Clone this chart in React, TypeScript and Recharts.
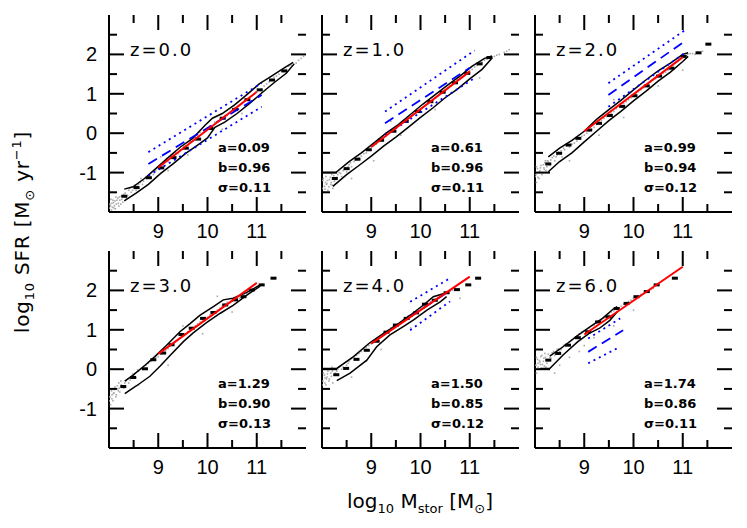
import { ScatterChart, Scatter, XAxis, YAxis } from 'recharts'

type Pt = [number, number]

// panel labels and fit parameters
const PANEL_Z = ['0.0', '1.0', '2.0', '3.0', '4.0', '6.0']
const FIT_A = [0.09, 0.61, 0.99, 1.29, 1.5, 1.74]
const FIT_B = [0.96, 0.96, 0.94, 0.9, 0.85, 0.86]
const FIT_SIGMA = [0.11, 0.11, 0.12, 0.13, 0.12, 0.11]

const X_TICKS = [8.5, 9, 9.5, 10, 10.5, 11, 11.5]
const Y_TICKS = [-1.5, -1, -0.5, 0, 0.5, 1, 1.5, 2, 2.5]

// simulated galaxies (grey cloud), read by eye
const SCATTER: Pt[][] = [
  [
    [8.03, -1.85], [8.06, -1.78], [8.1, -1.9], [8.12, -1.72], [8.15, -1.8], [8.18, -1.65], [8.2, -1.85], [8.22, -1.7],
    [8.25, -1.6], [8.28, -1.75], [8.05, -1.95], [8.14, -1.62], [8.08, -1.7], [8.02, -1.8], [8.3, -1.55], [8.35, -1.65],
    [8.4, -1.45], [8.45, -1.5], [8.5, -1.38], [8.55, -1.45], [8.6, -1.3], [8.7, -1.22], [8.8, -1.1], [8.9, -1.05],
    [9.0, -0.9], [9.1, -0.8], [9.2, -0.72], [9.3, -0.55], [9.4, -0.52], [9.5, -0.4], [9.6, -0.3], [9.7, -0.2],
    [9.8, -0.05], [9.9, 0.0], [10.0, 0.12], [10.1, 0.15], [10.2, 0.3], [10.3, 0.38], [10.4, 0.45], [10.5, 0.58],
    [10.6, 0.62], [10.7, 0.75], [10.8, 0.85], [10.9, 0.95], [11.0, 1.05], [11.1, 1.12], [11.2, 1.25], [11.3, 1.35],
    [11.4, 1.45], [11.5, 1.58], [11.6, 1.62], [11.7, 1.72], [11.8, 1.78], [11.85, 1.85], [9.2, -0.95], [9.6, -0.55],
    [10.3, 0.1], [9.05, -0.6], [10.7, 0.5], [11.9, 1.9], [8.65, -1.15], [9.75, -0.35],
    [8.0, -1.9], [8.04, -1.68], [8.07, -1.88], [8.09, -1.76], [8.11, -1.84], [8.13, -1.92], [8.16, -1.7], [8.19, -1.78],
    [8.21, -1.62], [8.24, -1.8], [8.26, -1.68], [8.29, -1.6], [8.33, -1.52], [8.38, -1.58], [8.42, -1.4], [8.48, -1.45],
    [8.52, -1.32], [8.58, -1.35], [8.63, -1.25], [8.68, -1.3], [8.75, -1.15], [8.85, -1.02], [8.95, -0.95], [9.05, -0.85],
    [9.15, -0.72], [9.25, -0.62], [9.35, -0.5], [9.45, -0.42], [9.55, -0.32], [9.65, -0.22], [9.75, -0.12], [9.85, 0.02],
    [9.95, 0.08], [10.05, 0.18], [10.15, 0.28], [10.25, 0.35], [10.35, 0.45], [10.45, 0.52], [10.55, 0.65], [10.65, 0.7],
    [10.75, 0.82], [10.85, 0.9], [10.95, 1.0], [11.05, 1.1], [11.15, 1.2], [11.25, 1.3], [11.35, 1.42], [11.45, 1.5],
    [11.55, 1.6], [11.65, 1.7], [11.75, 1.75], [11.95, 1.95],
  ],
  [
    [8.02, -1.2], [8.05, -1.35], [8.08, -1.1], [8.1, -1.28], [8.12, -1.45], [8.15, -1.18], [8.18, -1.3], [8.2, -1.05],
    [8.22, -1.4], [8.25, -1.22], [8.04, -1.5], [8.07, -1.25], [8.3, -1.12], [8.35, -1.0], [8.4, -1.1], [8.45, -0.92],
    [8.5, -0.98], [8.55, -0.8], [8.6, -0.85], [8.7, -0.68], [8.8, -0.58], [8.9, -0.5], [9.0, -0.35], [9.1, -0.28],
    [9.2, -0.15], [9.3, -0.08], [9.4, 0.05], [9.5, 0.15], [9.6, 0.22], [9.7, 0.35], [9.8, 0.42], [9.9, 0.55],
    [10.0, 0.6], [10.1, 0.7], [10.2, 0.82], [10.3, 0.9], [10.4, 1.0], [10.5, 1.1], [10.6, 1.2], [10.7, 1.3],
    [10.8, 1.38], [10.9, 1.48], [11.0, 1.58], [11.1, 1.68], [11.2, 1.75], [11.3, 1.85], [11.4, 1.9], [11.5, 1.95],
    [11.6, 2.0], [11.7, 2.05], [8.6, -1.15], [9.05, -0.7], [9.6, -0.05], [10.3, 0.6], [11.2, 1.4], [11.8, 2.12],
    [9.4, 0.3],
    [8.0, -1.4], [8.03, -1.15], [8.06, -1.42], [8.09, -1.3], [8.11, -1.2], [8.14, -1.36], [8.17, -1.12], [8.19, -1.25],
    [8.21, -1.32], [8.24, -1.08], [8.27, -1.18], [8.32, -1.05], [8.38, -1.02], [8.43, -0.95], [8.48, -0.88], [8.53, -0.85],
    [8.58, -0.75], [8.65, -0.72], [8.75, -0.62], [8.85, -0.52], [8.95, -0.42], [9.05, -0.32], [9.15, -0.2], [9.25, -0.12],
    [9.35, 0.0], [9.45, 0.08], [9.55, 0.2], [9.65, 0.28], [9.75, 0.38], [9.85, 0.48], [9.95, 0.58], [10.05, 0.66],
    [10.15, 0.75], [10.25, 0.85], [10.35, 0.95], [10.45, 1.05], [10.55, 1.15], [10.65, 1.25], [10.75, 1.35], [10.85, 1.42],
    [10.95, 1.52], [11.05, 1.62], [11.15, 1.72], [11.25, 1.8], [11.35, 1.88], [11.45, 1.92], [11.55, 1.98], [11.75, 2.08],
  ],
  [
    [8.02, -1.05], [8.05, -0.9], [8.08, -1.15], [8.1, -0.95], [8.12, -0.82], [8.15, -1.0], [8.18, -0.88], [8.2, -0.75],
    [8.22, -0.95], [8.25, -0.7], [8.03, -1.25], [8.06, -1.0], [8.3, -0.8], [8.35, -0.62], [8.4, -0.7], [8.45, -0.55],
    [8.5, -0.5], [8.55, -0.6], [8.6, -0.42], [8.7, -0.35], [8.8, -0.25], [8.9, -0.15], [9.0, -0.05], [9.1, 0.05],
    [9.2, 0.15], [9.3, 0.3], [9.4, 0.38], [9.5, 0.48], [9.6, 0.55], [9.7, 0.68], [9.8, 0.75], [9.9, 0.85],
    [10.0, 0.95], [10.1, 1.05], [10.2, 1.15], [10.3, 1.25], [10.4, 1.35], [10.5, 1.42], [10.6, 1.52], [10.7, 1.6],
    [10.8, 1.72], [10.9, 1.82], [11.0, 1.92], [11.1, 2.0], [11.2, 2.02], [11.3, 2.05], [8.7, -0.7], [9.3, -0.05],
    [9.8, 0.4], [10.5, 1.2], [11.0, 1.6], [9.6, 0.85],
    [8.0, -1.1], [8.03, -0.85], [8.06, -1.12], [8.09, -0.98], [8.11, -0.88], [8.14, -1.05], [8.17, -0.8], [8.19, -0.92],
    [8.21, -0.7], [8.24, -0.85], [8.27, -0.72], [8.32, -0.68], [8.38, -0.58], [8.43, -0.6], [8.48, -0.48], [8.53, -0.45],
    [8.58, -0.38], [8.65, -0.32], [8.75, -0.28], [8.85, -0.2], [8.95, -0.08], [9.05, 0.0], [9.15, 0.1], [9.25, 0.22],
    [9.35, 0.32], [9.45, 0.42], [9.55, 0.5], [9.65, 0.62], [9.75, 0.7], [9.85, 0.8], [9.95, 0.9], [10.05, 1.0],
    [10.15, 1.1], [10.25, 1.2], [10.35, 1.3], [10.45, 1.38], [10.55, 1.48], [10.65, 1.55], [10.75, 1.68], [10.85, 1.78],
    [10.95, 1.88], [11.05, 1.95], [11.15, 2.02], [11.25, 2.0], [11.4, 2.08],
  ],
  [
    [8.02, -0.7], [8.05, -0.55], [8.08, -0.8], [8.1, -0.6], [8.12, -0.45], [8.15, -0.65], [8.18, -0.5], [8.2, -0.35],
    [8.22, -0.58], [8.25, -0.4], [8.03, -0.9], [8.06, -0.65], [8.3, -0.48], [8.35, -0.3], [8.4, -0.35], [8.45, -0.2],
    [8.5, -0.15], [8.55, -0.22], [8.6, -0.05], [8.7, 0.05], [8.8, 0.15], [8.9, 0.25], [9.0, 0.32], [9.1, 0.45],
    [9.2, 0.52], [9.3, 0.65], [9.4, 0.75], [9.5, 0.85], [9.6, 0.95], [9.7, 1.05], [9.8, 1.15], [9.9, 1.25],
    [10.0, 1.32], [10.1, 1.42], [10.2, 1.5], [10.3, 1.6], [10.4, 1.7], [10.5, 1.72], [10.6, 1.78], [10.7, 1.85],
    [10.8, 1.92], [10.9, 2.0], [11.0, 2.1], [11.1, 2.15], [8.6, -0.4], [9.2, 0.1], [9.9, 0.9], [10.5, 1.45],
    [10.2, 1.85], [9.5, 1.1],
    [8.0, -0.8], [8.03, -0.5], [8.06, -0.75], [8.09, -0.62], [8.11, -0.52], [8.14, -0.7], [8.17, -0.42], [8.19, -0.55],
    [8.21, -0.48], [8.24, -0.3], [8.27, -0.45], [8.32, -0.35], [8.38, -0.25], [8.43, -0.28], [8.48, -0.12], [8.53, -0.1],
    [8.58, -0.02], [8.65, 0.0], [8.75, 0.1], [8.85, 0.2], [8.95, 0.3], [9.05, 0.38], [9.15, 0.48], [9.25, 0.6],
    [9.35, 0.7], [9.45, 0.8], [9.55, 0.9], [9.65, 1.0], [9.75, 1.1], [9.85, 1.2], [9.95, 1.28], [10.05, 1.38],
    [10.15, 1.45], [10.25, 1.55], [10.35, 1.65], [10.45, 1.68], [10.55, 1.75], [10.65, 1.8], [10.75, 1.88], [10.85, 1.95],
    [10.95, 2.05], [11.05, 2.12],
  ],
  [
    [8.02, -0.3], [8.05, -0.15], [8.08, -0.4], [8.1, -0.2], [8.12, -0.05], [8.15, -0.25], [8.18, -0.1], [8.2, 0.05],
    [8.22, -0.35], [8.25, -0.15], [8.03, -0.5], [8.06, -0.22], [8.3, -0.05], [8.35, 0.05], [8.4, 0.0], [8.45, 0.15],
    [8.5, 0.1], [8.55, 0.2], [8.6, 0.28], [8.7, 0.35], [8.8, 0.45], [8.9, 0.55], [9.0, 0.65], [9.1, 0.78],
    [9.2, 0.85], [9.3, 0.95], [9.4, 1.05], [9.5, 1.12], [9.6, 1.2], [9.7, 1.3], [9.8, 1.38], [9.9, 1.45],
    [10.0, 1.55], [10.1, 1.62], [10.2, 1.72], [10.3, 1.78], [10.4, 1.85], [10.5, 1.92], [10.6, 1.98], [10.7, 2.05],
    [8.6, -0.2], [9.2, 0.5], [9.8, 1.05], [10.4, 1.55], [10.8, 1.8], [8.9, 0.2],
    [8.0, -0.4], [8.03, -0.1], [8.06, -0.35], [8.09, -0.25], [8.11, -0.12], [8.14, -0.3], [8.17, 0.0], [8.19, -0.18],
    [8.21, -0.05], [8.24, 0.02], [8.27, -0.1], [8.32, 0.0], [8.38, 0.08], [8.43, 0.05], [8.48, 0.18], [8.53, 0.15],
    [8.58, 0.25], [8.65, 0.3], [8.75, 0.4], [8.85, 0.5], [8.95, 0.6], [9.05, 0.72], [9.15, 0.8], [9.25, 0.9],
    [9.35, 1.0], [9.45, 1.08], [9.55, 1.15], [9.65, 1.25], [9.75, 1.35], [9.85, 1.42], [9.95, 1.5], [10.05, 1.58],
    [10.15, 1.68], [10.25, 1.75], [10.35, 1.82], [10.45, 1.88], [10.55, 1.95], [10.65, 2.0],
  ],
  [
    [8.02, 0.1], [8.05, 0.25], [8.08, 0.0], [8.1, 0.18], [8.12, 0.32], [8.15, 0.12], [8.18, 0.28], [8.2, 0.4],
    [8.22, 0.05], [8.25, 0.22], [8.03, -0.1], [8.06, 0.15], [8.3, 0.3], [8.35, 0.42], [8.4, 0.35], [8.45, 0.5],
    [8.5, 0.45], [8.55, 0.55], [8.6, 0.62], [8.7, 0.7], [8.8, 0.8], [8.9, 0.9], [9.0, 0.98], [9.1, 1.05],
    [9.2, 1.12], [9.3, 1.22], [9.4, 1.3], [9.5, 1.4], [9.6, 1.48], [9.7, 1.55], [9.8, 1.65], [9.9, 1.72],
    [10.0, 1.8], [10.1, 1.85], [10.2, 1.92], [10.3, 2.0], [10.4, 2.05], [8.5, 0.1], [8.4, -0.1], [9.0, 0.6],
    [9.6, 1.1], [10.0, 1.5], [8.9, 0.45],
    [8.0, 0.0], [8.03, 0.3], [8.06, 0.05], [8.09, 0.22], [8.11, 0.12], [8.14, 0.35], [8.17, 0.2], [8.19, 0.08],
    [8.21, 0.3], [8.24, 0.15], [8.27, 0.38], [8.32, 0.28], [8.38, 0.45], [8.43, 0.4], [8.48, 0.52], [8.53, 0.5],
    [8.58, 0.6], [8.65, 0.65], [8.75, 0.75], [8.85, 0.85], [8.95, 0.95], [9.05, 1.0], [9.15, 1.1], [9.25, 1.18],
    [9.35, 1.25], [9.45, 1.35], [9.55, 1.45], [9.65, 1.52], [9.75, 1.6], [9.85, 1.68], [9.95, 1.75], [10.05, 1.82],
    [10.15, 1.9], [10.25, 1.95], [10.35, 2.02], [9.2, 0.8], [8.7, 0.3],
  ],
]

// contour of the simulated distribution
const UPPER: Pt[][] = [
  [[8.31, -1.42], [8.49, -1.36], [8.72, -1.15], [8.95, -0.9], [9.2, -0.62], [9.45, -0.35], [9.7, -0.13], [9.95, 0.2],
   [10.1, 0.38], [10.3, 0.5], [10.55, 0.72], [10.8, 0.98], [11.05, 1.25], [11.3, 1.45], [11.55, 1.65], [11.74, 1.8]],
  [[8.0, -1.0], [8.28, -1.0], [8.55, -0.72], [8.8, -0.5], [9.05, -0.25], [9.3, 0.0], [9.55, 0.22], [9.8, 0.48],
   [10.05, 0.74], [10.3, 0.98], [10.55, 1.22], [10.8, 1.45], [11.05, 1.7], [11.3, 1.9], [11.45, 1.96]],
  [[8.27, -0.6], [8.5, -0.38], [8.75, -0.18], [9.0, 0.05], [9.25, 0.35], [9.5, 0.6], [9.75, 0.84], [10.0, 1.1],
   [10.25, 1.35], [10.5, 1.58], [10.75, 1.78], [11.0, 2.0], [11.11, 2.04]],
  [[8.32, -0.3], [8.49, -0.15], [8.73, 0.1], [8.93, 0.32], [9.17, 0.61], [9.44, 0.95], [9.64, 1.15], [9.85, 1.37],
   [10.12, 1.59], [10.32, 1.76], [10.52, 1.8], [10.8, 1.95], [11.07, 2.14]],
  [[8.0, 0.02], [8.3, 0.02], [8.64, 0.32], [8.97, 0.67], [9.25, 0.91], [9.51, 1.12], [9.79, 1.37], [10.06, 1.63],
   [10.26, 1.84], [10.53, 1.94]],
  [[8.3, 0.33], [8.57, 0.57], [8.87, 0.86], [9.1, 1.06], [9.37, 1.29], [9.6, 1.54], [9.67, 1.59]],
]
const LOWER: Pt[][] = [
  [[8.31, -1.72], [8.55, -1.52], [8.8, -1.3], [9.05, -1.02], [9.3, -0.78], [9.55, -0.52], [9.8, -0.3], [10.0, -0.12],
   [10.15, 0.15], [10.35, 0.28], [10.6, 0.5], [10.85, 0.75], [11.1, 1.02], [11.35, 1.28], [11.6, 1.52], [11.76, 1.76]],
  [[8.22, -1.35], [8.5, -1.05], [8.75, -0.82], [9.0, -0.58], [9.25, -0.33], [9.5, -0.1], [9.75, 0.15], [10.0, 0.4],
   [10.25, 0.64], [10.5, 0.9], [10.75, 1.12], [11.0, 1.38], [11.25, 1.62], [11.45, 1.9]],
  [[8.27, -0.98], [8.5, -0.72], [8.75, -0.5], [9.0, -0.22], [9.25, 0.05], [9.5, 0.32], [9.75, 0.56], [10.0, 0.82],
   [10.25, 1.06], [10.5, 1.32], [10.75, 1.55], [11.0, 1.82], [11.11, 1.95]],
  [[8.32, -0.62], [8.56, -0.42], [8.83, -0.18], [9.04, 0.08], [9.24, 0.35], [9.51, 0.7], [9.71, 0.92], [9.98, 1.18],
   [10.26, 1.42], [10.52, 1.62], [10.8, 1.88], [11.07, 2.11]],
  [[8.3, -0.29], [8.57, -0.1], [8.91, 0.23], [9.11, 0.57], [9.38, 0.87], [9.65, 1.08], [9.86, 1.25], [10.13, 1.5],
   [10.4, 1.71], [10.53, 1.84]],
  [[8.1, 0.02], [8.3, 0.02], [8.57, 0.36], [8.87, 0.7], [9.1, 0.91], [9.31, 1.04], [9.52, 1.24], [9.67, 1.46]],
]

// binned medians
const MEDIANS: Pt[][] = [
  [[8.31, -1.6], [8.56, -1.38], [8.81, -1.13], [9.06, -0.88], [9.31, -0.62], [9.56, -0.38], [9.81, -0.15],
   [10.06, 0.12], [10.31, 0.38], [10.56, 0.6], [10.81, 0.85], [11.06, 1.1], [11.31, 1.35], [11.56, 1.58]],
  [[8.26, -1.15], [8.5, -0.9], [8.72, -0.66], [8.95, -0.42], [9.2, -0.18], [9.45, 0.05], [9.7, 0.3], [9.95, 0.55],
   [10.2, 0.8], [10.45, 1.04], [10.7, 1.28], [10.95, 1.52], [11.2, 1.76], [11.4, 1.92]],
  [[8.27, -0.78], [8.49, -0.51], [8.68, -0.3], [8.88, -0.13], [9.1, 0.08], [9.3, 0.25], [9.52, 0.45], [9.77, 0.68],
   [10.02, 0.95], [10.27, 1.2], [10.52, 1.45], [10.77, 1.65], [11.02, 1.95], [11.32, 2.04], [11.52, 2.26]],
  [[8.29, -0.44], [8.49, -0.21], [8.73, 0.01], [8.9, 0.24], [9.1, 0.41], [9.27, 0.62], [9.47, 0.88], [9.68, 1.04],
   [9.91, 1.29], [10.12, 1.44], [10.36, 1.63], [10.56, 1.76], [10.73, 1.84], [10.9, 2.01], [11.1, 2.14], [11.34, 2.31]],
  [[8.29, -0.14], [8.49, 0.02], [8.7, 0.25], [8.91, 0.48], [9.11, 0.71], [9.31, 0.94], [9.5, 1.12], [9.72, 1.29],
   [9.91, 1.43], [10.09, 1.65], [10.29, 1.75], [10.53, 1.94], [10.74, 2.02], [10.97, 2.14], [11.17, 2.31]],
  [[8.27, 0.23], [8.47, 0.4], [8.67, 0.61], [8.87, 0.8], [9.08, 0.95], [9.28, 1.2], [9.49, 1.33], [9.66, 1.54],
   [9.86, 1.67], [10.06, 1.84], [10.27, 1.97], [10.47, 2.14], [10.84, 2.31]],
]

// best fit (red)
const FIT_LINE: Pt[][] = [
  [[9, -0.87], [11, 1.05]],
  [[9, -0.35], [11, 1.57]],
  [[9, 0.05], [11, 1.93]],
  [[9, 0.39], [11, 2.19]],
  [[9, 0.65], [11, 2.35]],
  [[9, 0.88], [11, 2.6]],
]

// observed relation (blue dashed) and its scatter (blue dotted)
const OBS_MID: Pt[][] = [
  [[8.8, -0.78], [11.1, 0.97]],
  [[9.28, 0.25], [11.0, 1.66]],
  [[9.49, 0.97], [11.08, 2.37]],
  [],
  [[9.79, 1.33], [10.53, 1.94]],
  [[9.08, 0.44], [9.79, 0.99]],
]
const OBS_HI: Pt[][] = [
  [[8.8, -0.48], [11.1, 1.27]],
  [[9.28, 0.55], [11.1, 2.1]],
  [[9.49, 1.27], [11.05, 2.62]],
  [],
  [[9.79, 1.71], [10.6, 2.31]],
  [[9.08, 0.78], [9.73, 1.29]],
]
const OBS_LO: Pt[][] = [
  [[8.8, -1.08], [11.1, 0.67]],
  [[9.28, -0.05], [11.1, 1.4]],
  [[9.49, 0.67], [11.08, 2.07]],
  [],
  [[9.79, 0.99], [10.6, 1.72]],
  [[9.08, 0.15], [9.73, 0.57]],
]

const X_DOMAIN = [8, 12]
const Y_DOMAIN = [-2, 3]
const PLOT = 197
const AXIS_W = 40
const AXIS_H = 40
const PAD = 2
const MAJOR_LEN = 15
const MINOR_LEN = 8
const TICK_W = 2
const TICK_FONT = 'Liberation Sans, Arial, Helvetica, sans-serif'
const LABEL_FONT = 'DejaVu Sans, Verdana, sans-serif'

const toXY = (pts: Pt[]) => pts.map(([x, y]) => ({ x, y }))
const isMajor = (v: number) => Number.isInteger(v)
const panelLeft = (i: number) => 109 + 213 * (i % 3)
const panelTop = (i: number) => 15 + 236 * Math.floor(i / 3)

const noDot = () => <g />
const greyDot = (p: any) => <rect x={p.cx - 0.8} y={p.cy - 0.8} width={1.6} height={1.6} fill="#aaaaaa" />
const medianDash = (p: any) => <rect x={p.cx - 3} y={p.cy - 1.5} width={6} height={3} fill="#000" />

function lineSeries(key: string, pts: Pt[], stroke: string, width: number, dash?: string) {
  if (!pts.length) return null
  return (
    <Scatter
      key={key}
      data={toXY(pts)}
      xAxisId="b"
      yAxisId="l"
      line={{ stroke, strokeWidth: width, strokeDasharray: dash }}
      shape={noDot}
      isAnimationActive={false}
    />
  )
}

function XLabel({ x, y, payload }: any) {
  if (!isMajor(payload.value)) return <g />
  return (
    <text x={x} y={y + 26} textAnchor="middle" fontSize={20} fontFamily={TICK_FONT} fill="#000">
      {payload.value}
    </text>
  )
}

function YLabel({ x, y, payload }: any) {
  if (!isMajor(payload.value)) return <g />
  return (
    <text x={x - 12} y={y + 7} textAnchor="end" fontSize={20} fontFamily={TICK_FONT} fill="#000">
      {payload.value}
    </text>
  )
}

function Panel({ i }: { i: number }) {
  const col = i % 3
  const frame = { stroke: '#000', strokeWidth: 2 }
  return (
    <div style={{ position: 'absolute', left: panelLeft(i) - AXIS_W, top: panelTop(i) - PAD }}>
      <ScatterChart
        width={AXIS_W + PLOT + PAD}
        height={PAD + PLOT + AXIS_H}
        margin={{ top: PAD, right: PAD, bottom: 0, left: 0 }}
      >
        <XAxis xAxisId="b" type="number" dataKey="x" domain={X_DOMAIN} ticks={X_TICKS} interval={0}
          orientation="bottom" height={AXIS_H} tickSize={0} tickMargin={0} tickLine={false} allowDataOverflow
          axisLine={frame} tick={(p: any) => <XLabel {...p} />} />
        <XAxis xAxisId="t" type="number" dataKey="x" domain={X_DOMAIN} ticks={X_TICKS} interval={0}
          orientation="top" height={0} tickSize={0} tickMargin={0} tickLine={false} allowDataOverflow
          axisLine={frame} tick={noDot} />
        <YAxis yAxisId="l" type="number" dataKey="y" domain={Y_DOMAIN} ticks={Y_TICKS} interval={0}
          orientation="left" width={AXIS_W} tickSize={0} tickMargin={0} tickLine={false} allowDataOverflow
          axisLine={frame} tick={col === 0 ? (p: any) => <YLabel {...p} /> : noDot} />
        <YAxis yAxisId="r" type="number" dataKey="y" domain={Y_DOMAIN} ticks={Y_TICKS} interval={0}
          orientation="right" width={0} tickSize={0} tickMargin={0} tickLine={false} allowDataOverflow
          axisLine={frame} tick={noDot} />
        <Scatter data={toXY(SCATTER[i])} xAxisId="b" yAxisId="l" shape={greyDot} isAnimationActive={false} />
        {lineSeries('up', UPPER[i], '#000', 1.5)}
        {lineSeries('lo', LOWER[i], '#000', 1.5)}
        <Scatter data={toXY(MEDIANS[i])} xAxisId="b" yAxisId="l" shape={medianDash} isAnimationActive={false} />
        {lineSeries('ohi', OBS_HI[i], '#0000ff', 1.8, '2 4')}
        {lineSeries('olo', OBS_LO[i], '#0000ff', 1.8, '2 4')}
        {lineSeries('omid', OBS_MID[i], '#0000ff', 1.8, '10 6')}
        {lineSeries('fit', FIT_LINE[i], '#ff0000', 2)}
      </ScatterChart>
    </div>
  )
}

// inward tick marks on the four frame sides of a panel, drawn as thin filled bars
function PanelTicks({ i }: { i: number }) {
  const left = panelLeft(i)
  const top = panelTop(i)
  const [x0, x1] = X_DOMAIN
  const [y0, y1] = Y_DOMAIN
  const px = (v: number) => left + ((v - x0) / (x1 - x0)) * PLOT
  const py = (v: number) => top + ((y1 - v) / (y1 - y0)) * PLOT
  const bars: number[][] = []
  X_TICKS.forEach((t) => {
    const len = isMajor(t) ? MAJOR_LEN : MINOR_LEN
    bars.push([px(t) - TICK_W / 2, top + PLOT - len, TICK_W, len])
    bars.push([px(t) - TICK_W / 2, top, TICK_W, len])
  })
  Y_TICKS.forEach((t) => {
    const len = isMajor(t) ? MAJOR_LEN : MINOR_LEN
    bars.push([left, py(t) - TICK_W / 2, len, TICK_W])
    bars.push([left + PLOT - len, py(t) - TICK_W / 2, len, TICK_W])
  })
  return (
    <>
      {bars.map(([x, y, w, h], k) => (
        <rect key={k} x={x} y={y} width={w} height={h} fill="#000" />
      ))}
    </>
  )
}

function Labels() {
  return (
    <svg width={747} height={528} style={{ position: 'absolute', left: 0, top: 0, pointerEvents: 'none' }}>
      {PANEL_Z.map((z, i) => {
        const left = panelLeft(i)
        const top = panelTop(i)
        return (
          <g key={i}>
            <PanelTicks i={i} />
            <g fontFamily={LABEL_FONT} fill="#000">
              <text x={left + 21} y={top + 41} fontSize={18} letterSpacing={2}>{`z=${z}`}</text>
              <text x={left + 109} y={top + 137} fontSize={13} fontWeight="bold">{`a=${FIT_A[i].toFixed(2)}`}</text>
              <text x={left + 109} y={top + 157} fontSize={13} fontWeight="bold">{`b=${FIT_B[i].toFixed(2)}`}</text>
              <text x={left + 109} y={top + 177} fontSize={13} fontWeight="bold">{`σ=${FIT_SIGMA[i].toFixed(2)}`}</text>
            </g>
          </g>
        )
      })}
      <text transform="translate(29,232) rotate(-90)" textAnchor="middle" fontSize={20} fontFamily={LABEL_FONT}
        letterSpacing={0.8} fill="#000">
        log<tspan fontSize={13} dy={5}>10</tspan>
        <tspan dy={-5}> SFR [M</tspan>
        <tspan fontSize={13} dy={5}>⊙</tspan>
        <tspan dy={-5}> yr</tspan>
        <tspan fontSize={13} dy={-8}>−1</tspan>
        <tspan dy={8}>]</tspan>
      </text>
      <text x={420} y={508} textAnchor="middle" fontSize={20} fontFamily={LABEL_FONT} fill="#000">
        log<tspan fontSize={13} dy={5}>10</tspan>
        <tspan dy={-5}> M</tspan>
        <tspan fontSize={13} dy={5}>stor</tspan>
        <tspan dy={-5}> [M</tspan>
        <tspan fontSize={13} dy={5}>⊙</tspan>
        <tspan dy={-5}>]</tspan>
      </text>
    </svg>
  )
}

export default function App() {
  return (
    <div style={{ position: 'absolute', left: 0, top: 0, width: 747, height: 528, background: '#fff', overflow: 'hidden' }}>
      {PANEL_Z.map((_, i) => (
        <Panel key={i} i={i} />
      ))}
      <Labels />
    </div>
  )
}
